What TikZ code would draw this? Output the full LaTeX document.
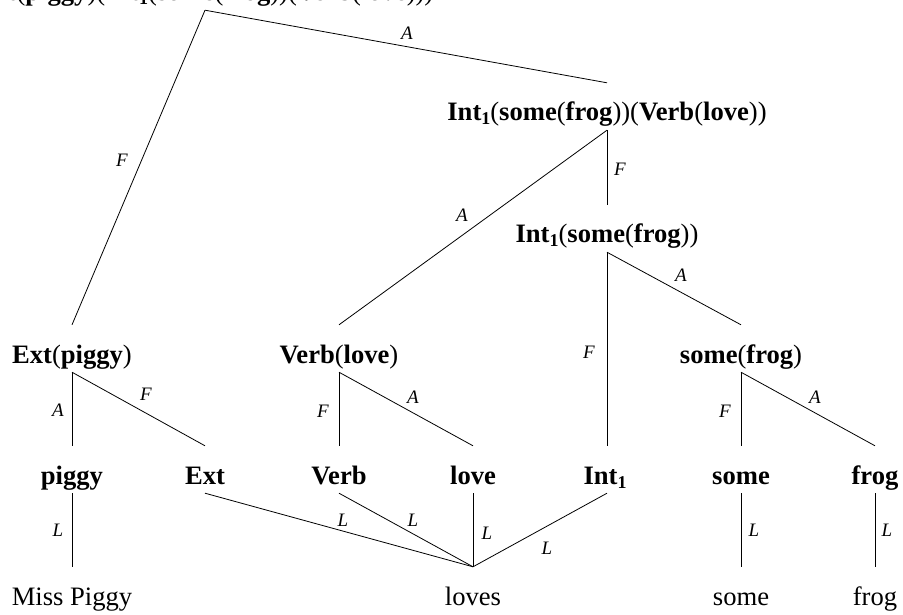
\documentclass[tikz,border=0pt]{standalone}
\usepackage{fontspec}
\setmainfont{Liberation Serif}
% bold subscript one for Int_1
\newcommand\subone{\raisebox{-4pt}{\fontsize{18}{18}\selectfont\bfseries 1}}
\newcommand\IntOne{\textbf{Int}\subone}
\begin{document}
\begin{tikzpicture}[x=1pt,y=-1pt,
  term/.style={font=\fontsize{26.6}{30}\selectfont, inner sep=0pt,
               text height=38pt, text depth=9pt, anchor=base},
  lab/.style={font=\fontsize{19}{21}\selectfont\itshape, inner sep=0pt},
  link/.style={line width=0.8pt}]
\useasboundingbox (0,0) rectangle (903,615);
\clip (0,0) rectangle (903,615);

% tree nodes
\node[term] (root) at (205,1) {\textbf{Ext}(\textbf{piggy})(\IntOne(\textbf{some}(\textbf{frog}))(\textbf{Verb}(\textbf{love})))};
\node[term] (ifv) at (607,121) {\IntOne(\textbf{some}(\textbf{frog}))(\textbf{Verb}(\textbf{love}))};
\node[term] (isf) at (607,243) {\IntOne(\textbf{some}(\textbf{frog}))};
\node[term] (ep) at (72,363) {\textbf{Ext}(\textbf{piggy})};
\node[term] (vl) at (339,363) {\textbf{Verb}(\textbf{love})};
\node[term] (sf) at (741,363) {\textbf{some}(\textbf{frog})};

% leaves
\node[term] (piggy) at (72,484) {\textbf{piggy}};
\node[term] (ext) at (205,484) {\textbf{Ext}};
\node[term] (verb) at (339,484) {\textbf{Verb}};
\node[term] (love) at (473,484) {\textbf{love}};
\node[term] (int) at (605,484) {\IntOne};
\node[term] (some) at (741,484) {\textbf{some}};
\node[term] (frog) at (875,484) {\textbf{frog}};

% words
\node[term] (wpiggy) at (72,605) {Miss Piggy};
\node[term] (wloves) at (473,605) {loves};
\node[term] (wsome) at (741,605) {some};
\node[term] (wfrog) at (875,605) {frog};

% branches
\draw[link] (root.south) -- (ep.north) node[lab] at (122,160) {F};
\draw[link] (root.south) -- (ifv.north) node[lab] at (407,33) {A};
\draw[link] (ifv.south) -- (isf.north) node[lab] at (620,169) {F};
\draw[link] (ifv.south) -- (vl.north) node[lab] at (462,215) {A};
\draw[link] (isf.south) -- (int.north -| isf.south) node[lab] at (589,352) {F};
\draw[link] (isf.south) -- (sf.north) node[lab] at (681,275) {A};
\draw[link] (ep.south) -- (piggy.north) node[lab] at (58,410) {A};
\draw[link] (ep.south) -- (ext.north) node[lab] at (146,394) {F};
\draw[link] (vl.south) -- (verb.north) node[lab] at (323,411) {F};
\draw[link] (vl.south) -- (love.north) node[lab] at (413,397) {A};
\draw[link] (sf.south) -- (some.north) node[lab] at (725,411) {F};
\draw[link] (sf.south) -- (frog.north) node[lab] at (815,397) {A};

% lexical links
\draw[link] (piggy.south) -- (wpiggy.north) node[lab] at (58,530) {L};
\draw[link] (ext.south) -- (wloves.north) node[lab] at (343,520) {L};
\draw[link] (verb.south) -- (wloves.north) node[lab] at (413,520) {L};
\draw[link] (love.south) -- (wloves.north) node[lab] at (487,533) {L};
\draw[link] (int.south -| isf.south) -- (wloves.north) node[lab] at (547,548) {L};
\draw[link] (some.south) -- (wsome.north) node[lab] at (754,530) {L};
\draw[link] (frog.south) -- (wfrog.north) node[lab] at (887,530) {L};
\end{tikzpicture}
\end{document}
